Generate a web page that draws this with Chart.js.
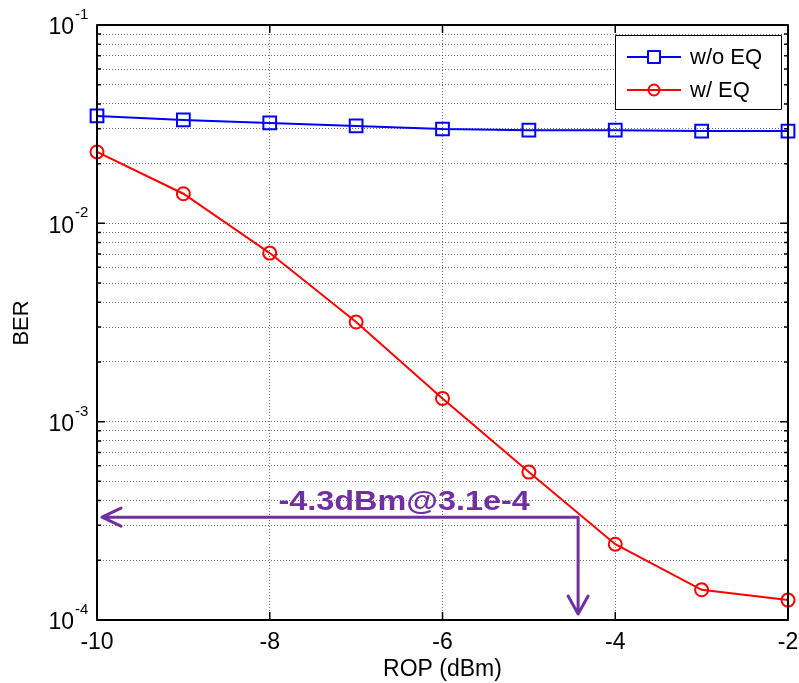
<!DOCTYPE html>
<html>
<head>
<meta charset="utf-8">
<script src="https://cdn.jsdelivr.net/npm/chart.js@4"></script>
<style>
  html, body { margin: 0; padding: 0; background: #fff; }
  canvas { display: block; }
</style>
</head>
<body>
<canvas id="berChart" width="799" height="683"></canvas>
<script>
// ROP (dBm) on x, BER on y (log)
var rop = [-10, -9, -8, -7, -6, -5, -4, -3, -2];
var berNoEq = [0.0348, 0.0332, 0.0321, 0.0310, 0.0299, 0.0295, 0.0295, 0.0292, 0.0292];
var berEq = [0.0229, 0.0141, 0.00708, 0.00318, 0.00131, 0.000557, 0.000241, 0.000142, 0.000126];
var xTicks = [-10, -8, -6, -4, -2];
var yDecades = [-4, -3, -2, -1];
var seriesNames = ['w/o EQ', 'w/ EQ'];
var noteText = '-4.3dBm@3.1e-4';
var noteX = -4.43;
var noteY = 3.3e-4;

var purple = '#7030A0';
var gridColor = 'rgba(0,0,0,0.55)';

function toPoints(ys) {
  return rop.map(function (x, i) { return { x: x, y: ys[i] }; });
}

// all 1..9 x 10^e ticks for the log axis
var yTickValues = [];
for (var e = -4; e <= -1; e++) {
  for (var k = 1; k <= 9; k++) {
    var v = k * Math.pow(10, e);
    if (v <= 0.1000001) yTickValues.push(v);
  }
}

var matlabAxes = {
  id: 'matlabAxes',
  afterDatasetsDraw: function (chart) {
    var ctx = chart.ctx;
    var a = chart.chartArea;
    var xs = chart.scales.x, ys = chart.scales.y;
    ctx.save();

    // annotation arrows
    var cx = xs.getPixelForValue(noteX);
    var cy = ys.getPixelForValue(noteY);
    ctx.strokeStyle = purple;
    ctx.lineWidth = 3;
    ctx.lineCap = 'round';
    ctx.lineJoin = 'round';
    var lx = a.left + 5;
    ctx.beginPath();
    ctx.moveTo(cx, cy); ctx.lineTo(lx, cy);
    ctx.moveTo(lx + 19, cy - 9); ctx.lineTo(lx, cy); ctx.lineTo(lx + 19, cy + 9);
    var by = a.bottom - 6;
    ctx.moveTo(cx, cy); ctx.lineTo(cx, by);
    ctx.moveTo(cx - 10, by - 18); ctx.lineTo(cx, by); ctx.lineTo(cx + 10, by - 18);
    ctx.stroke();
    ctx.save();
    ctx.fillStyle = purple;
    ctx.font = 'bold 27px Arial, "Liberation Sans", sans-serif';
    ctx.textAlign = 'center';
    ctx.textBaseline = 'alphabetic';
    ctx.translate(cx - 174, cy - 7);
    ctx.scale(1.2, 1);
    ctx.fillText(noteText, 0, 0);
    ctx.restore();

    // box
    ctx.strokeStyle = '#000';
    ctx.lineWidth = 2;
    ctx.lineCap = 'butt';
    ctx.strokeRect(a.left, a.top, a.right - a.left, a.bottom - a.top);

    // inward ticks
    ctx.lineWidth = 1.5;
    ctx.beginPath();
    yTickValues.forEach(function (v) {
      var y = ys.getPixelForValue(v);
      var major = Math.abs(Math.log10(v) - Math.round(Math.log10(v))) < 1e-6;
      var len = major ? 8 : 4;
      ctx.moveTo(a.left, y); ctx.lineTo(a.left + len, y);
      ctx.moveTo(a.right, y); ctx.lineTo(a.right - len, y);
    });
    xTicks.forEach(function (v) {
      var x = xs.getPixelForValue(v);
      ctx.moveTo(x, a.bottom); ctx.lineTo(x, a.bottom - 8);
      ctx.moveTo(x, a.top); ctx.lineTo(x, a.top + 8);
    });
    ctx.stroke();

    // y tick labels 10^e
    ctx.fillStyle = '#000';
    yDecades.forEach(function (d) {
      var y = ys.getPixelForValue(Math.pow(10, d));
      ctx.font = '23px Arial, "Liberation Sans", sans-serif';
      ctx.textAlign = 'right';
      ctx.textBaseline = 'middle';
      ctx.fillText('10', 74, y + 3);
      ctx.font = '15px Arial, "Liberation Sans", sans-serif';
      ctx.textAlign = 'left';
      ctx.textBaseline = 'alphabetic';
      ctx.fillText(String(d), 75, y - 6);
    });

    // y title
    ctx.save();
    ctx.translate(22, 323);
    ctx.rotate(-Math.PI / 2);
    ctx.font = '22px Arial, "Liberation Sans", sans-serif';
    ctx.textAlign = 'center';
    ctx.textBaseline = 'middle';
    ctx.fillText('BER', 0, 0);
    ctx.restore();

    // legend
    var lgL = a.right - 173, lgT = a.top + 10, lgW = 166, lgH = 74;
    ctx.fillStyle = '#fff';
    ctx.fillRect(lgL, lgT, lgW, lgH);
    ctx.strokeStyle = '#000';
    ctx.lineWidth = 1;
    ctx.strokeRect(lgL + 0.5, lgT + 0.5, lgW, lgH);
    var rows = [lgT + 22, lgT + 55];
    var colors = ['#0000ff', '#ff0000'];
    rows.forEach(function (ry, i) {
      ctx.strokeStyle = colors[i];
      ctx.lineWidth = 2;
      ctx.beginPath();
      ctx.moveTo(lgL + 12, ry); ctx.lineTo(lgL + 66, ry);
      ctx.stroke();
      ctx.beginPath();
      if (i === 0) {
        ctx.fillStyle = '#fff';
        ctx.fillRect(lgL + 33, ry - 6, 12, 12);
        ctx.rect(lgL + 33, ry - 6, 12, 12);
      } else {
        ctx.arc(lgL + 39, ry, 5.5, 0, Math.PI * 2);
      }
      ctx.stroke();
      ctx.fillStyle = '#000';
      ctx.font = '22px Arial, "Liberation Sans", sans-serif';
      ctx.textAlign = 'left';
      ctx.textBaseline = 'middle';
      ctx.fillText(seriesNames[i], lgL + 75, ry + 1);
    });

    ctx.restore();
  }
};

var ctx = document.getElementById('berChart').getContext('2d');

var data = {
  datasets: [
    {
      label: seriesNames[0],
      data: toPoints(berNoEq),
      borderColor: '#0000ff',
      backgroundColor: 'rgba(0,0,0,0)',
      borderWidth: 2,
      pointStyle: 'rect',
      pointRadius: 9,
      pointBorderWidth: 2,
      pointBorderColor: '#0000ff',
      pointBackgroundColor: 'rgba(0,0,0,0)',
      clip: false
    },
    {
      label: seriesNames[1],
      data: toPoints(berEq),
      borderColor: '#ff0000',
      backgroundColor: 'rgba(0,0,0,0)',
      borderWidth: 2,
      pointStyle: 'circle',
      pointRadius: 6.5,
      pointBorderWidth: 2,
      pointBorderColor: '#ff0000',
      pointBackgroundColor: 'rgba(0,0,0,0)',
      clip: false
    }
  ]
};

var options = {
  responsive: false,
  animation: false,
  devicePixelRatio: 1,
  layout: { padding: { top: 25, right: 6, left: 0, bottom: 0 } },
  plugins: {
    legend: { display: false },
    tooltip: { enabled: false }
  },
  scales: {
    x: {
      type: 'linear',
      min: -10,
      max: -2,
      afterFit: function (scale) {
        scale.height = 63;
        scale.paddingLeft = 0;
        scale.paddingRight = 0;
      },
      afterBuildTicks: function (scale) {
        scale.ticks = xTicks.map(function (v) { return { value: v }; });
      },
      grid: { color: gridColor, lineWidth: 1, drawTicks: false },
      border: { display: false, dash: [1, 2] },
      ticks: {
        color: '#000',
        padding: 9,
        font: { family: 'Arial, "Liberation Sans", sans-serif', size: 23 },
        maxRotation: 0,
        autoSkip: false
      },
      title: {
        display: true,
        text: 'ROP (dBm)',
        color: '#000',
        padding: { top: 0, bottom: 0 },
        font: { family: 'Arial, "Liberation Sans", sans-serif', size: 23 }
      }
    },
    y: {
      type: 'logarithmic',
      min: 1e-4,
      max: 1e-1,
      afterFit: function (scale) {
        scale.width = 97;
        scale.paddingTop = 0;
        scale.paddingBottom = 0;
      },
      afterBuildTicks: function (scale) {
        scale.ticks = yTickValues.map(function (v) { return { value: v }; });
      },
      grid: { color: gridColor, lineWidth: 1, drawTicks: false },
      border: { display: false, dash: [1, 2] },
      ticks: { display: false, autoSkip: false }
    }
  }
};

var berChart = new Chart(ctx, {
  type: 'line',
  data: data,
  options: options,
  plugins: [matlabAxes]
});
</script>
</body>
</html>
